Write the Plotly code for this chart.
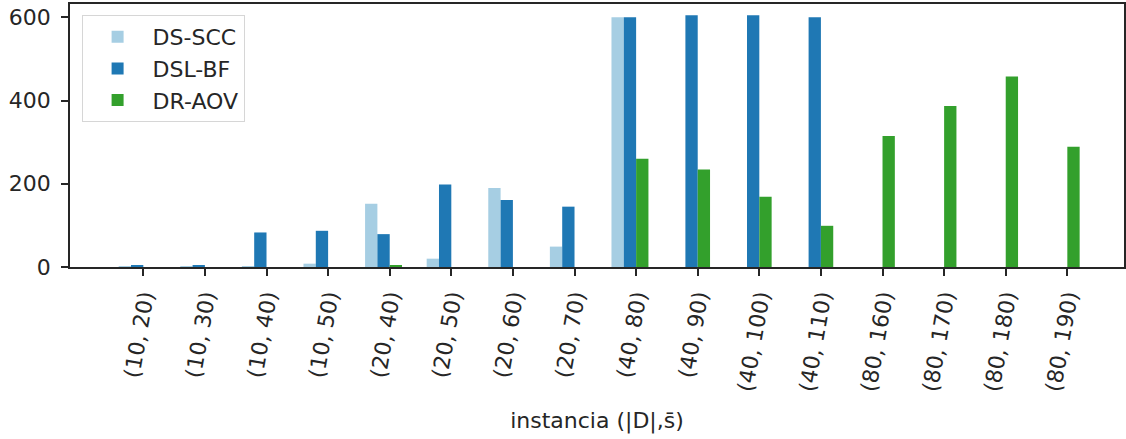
import plotly.graph_objects as go

categories = ["(10, 20)", "(10, 30)", "(10, 40)", "(10, 50)", "(20, 40)", "(20, 50)",
              "(20, 60)", "(20, 70)", "(40, 80)", "(40, 90)", "(40, 100)", "(40, 110)",
              "(80, 160)", "(80, 170)", "(80, 180)", "(80, 190)"]
ds_scc = [2, 2, 2, 8, 152, 20, 190, 49, 600, 0, 0, 0, 0, 0, 0, 0]
dsl_bf = [4, 3, 83, 87, 79, 198, 161, 145, 600, 605, 605, 600, 0, 0, 0, 0]
dr_aov = [0, 0, 0, 0, 3, 0, 0, 0, 260, 234, 169, 99, 315, 387, 458, 289]

series = [("DS-SCC", ds_scc, "#a6cee3", -0.4),
          ("DSL-BF", dsl_bf, "#1f78b4", -0.2),
          ("DR-AOV", dr_aov, "#33a02c", 0.0)]

x = list(range(len(categories)))
fig = go.Figure()
for name, vals, color, off in series:
    fig.add_trace(go.Bar(x=x, y=vals, name=name, marker_color=color,
                         marker_line_width=0, width=0.2, offset=off))

font = "DejaVu Sans"
fig.update_layout(
    width=1126, height=439,
    margin=dict(l=70, r=2, t=4, b=172),
    paper_bgcolor="white", plot_bgcolor="white",
    barmode="overlay",
    font=dict(family=font, size=22, color="#262626"),
    legend=dict(x=0.011, y=0.958, xanchor="left", yanchor="top",
                bordercolor="#d6d6d6", borderwidth=1, bgcolor="rgba(255,255,255,0.8)",
                font=dict(size=22), itemsizing="constant", itemwidth=60,
                tracegroupgap=4),
    showlegend=True,
)
fig.update_xaxes(
    range=[-1.19, 15.92], tickmode="array", tickvals=x, ticktext=categories,
    tickangle=-80, ticks="outside", ticklen=7, tickwidth=1.5, tickcolor="#262626",
    ticklabelstandoff=0, automargin=False,
    showline=True, linecolor="#262626", linewidth=1.5, mirror=True,
    showgrid=False, zeroline=False, tickfont=dict(size=22),
    title=dict(text="instancia (|D|,s̄)", font=dict(size=22), standoff=20),
)
fig.update_yaxes(
    range=[0, 632], tickvals=[0, 200, 400, 600], ticks="outside", ticklen=7,
    tickwidth=1.5, tickcolor="#262626", ticklabelstandoff=6, automargin=False,
    showline=True, linecolor="#262626", linewidth=1.5, mirror=True,
    showgrid=False, zeroline=False, tickfont=dict(size=22),
)
fig.write_html("out.html", config={"displayModeBar": False},
               post_script="document.body.style.margin='0';")
